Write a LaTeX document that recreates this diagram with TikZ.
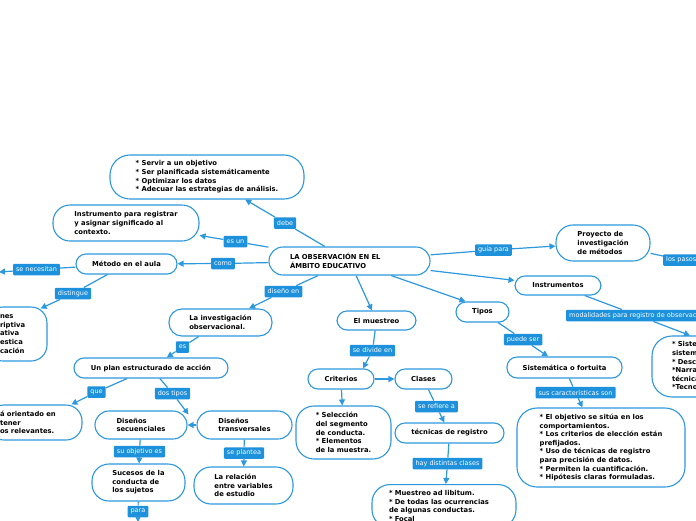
\documentclass[tikz,border=0pt]{standalone}
\usepackage{fontspec}
\setmainfont{DejaVu Sans}
\usetikzlibrary{arrows.meta,calc}
\definecolor{bord}{RGB}{45,152,222}
\definecolor{lblfill}{RGB}{30,145,220}
\begin{document}
\begin{tikzpicture}[x=1pt,y=-1pt,
  box/.style={draw=bord, line width=1.1pt, fill=white, rounded corners=10pt, align=left, inner sep=0pt, font=\bfseries\fontsize{6.8}{8.6}\selectfont, text=black},
  lbl/.style={fill=lblfill, text=white, font=\fontsize{6.5}{7}\selectfont, inner xsep=3pt, inner ysep=0pt, minimum height=11.5pt, rounded corners=1pt},
  edge/.style={draw=bord, line width=1.2pt, -{Triangle[length=6pt,width=6pt]}}]
\useasboundingbox (0,0) rectangle (696,520);
\clip (0,0) rectangle (696,520);

% boxes
\node[box, minimum width=194, minimum height=44, rounded corners=20pt] (servir) at (207,177) {{*} Servir a un objetivo\\{*} Ser planificada sistemáticamente\\{*} Optimizar los datos\\{*} Adecuar las estrategias de análisis.};
\node[box, minimum width=146, minimum height=36, rounded corners=17pt] (instr) at (126,223) {Instrumento para registrar\\y asignar significado al\\contexto.};
\node[box, minimum width=161, minimum height=28, rounded corners=14pt, text width=119] (main) at (349.5,261) {LA OBSERVACIÓN EN EL\\ÁMBITO EDUCATIVO};
\node[box, minimum width=101, minimum height=20] (metodo) at (126.5,264) {Método en el aula};
\node[box, minimum width=60, minimum height=54, rounded corners=16pt, text width=34] (funciones) at (17,334) {nes\\riptiva\\ativa\\estica\\cación};
\node[box, minimum width=103, minimum height=27, rounded corners=13pt] (investig) at (220.5,322.5) {La investigación\\observacional.};
\node[box, minimum width=154, minimum height=20] (plan) at (151,368) {Un plan estructurado de acción};
\node[box, minimum width=94, minimum height=35, rounded corners=16pt, text width=70] (orient) at (35,422.5) {á orientado en\\tener\\os relevantes.};
\node[box, minimum width=92, minimum height=28, rounded corners=14pt] (dsec) at (141,425) {Diseños\\secuenciales};
\node[box, minimum width=95, minimum height=28, rounded corners=14pt] (dtrans) at (244.5,425) {Diseños\\transversales};
\node[box, minimum width=93, minimum height=37, rounded corners=17pt] (sucesos) at (138.5,482.5) {Sucesos de la\\conducta de\\los sujetos};
\node[box, minimum width=99, minimum height=37, rounded corners=17pt] (relacion) at (243.5,485.5) {La relación\\entre variables\\de estudio};
\node[box, minimum width=79, minimum height=19] (muestreo) at (376.5,320.5) {El muestreo};
\node[box, minimum width=66, minimum height=20] (criterios) at (341,379) {Criterios};
\node[box, minimum width=57, minimum height=20] (clases) at (423.5,379) {Clases};
\node[box, minimum width=95, minimum height=53, rounded corners=18pt] (seleccion) at (343.5,432.5) {{*} Selección\\del segmento\\de conducta.\\{*} Elementos\\de la muestra.};
\node[box, minimum width=109, minimum height=20] (tecnicas) at (449.5,433) {técnicas de registro};
\node[box, minimum width=144, anchor=north, inner ysep=6pt, rounded corners=18pt, text width=110] (libitum) at (444,484) {{*} Muestreo ad libitum.\\{*} De todas las ocurrencias\\de algunas conductas.\\{*} Focal};
\node[box, minimum width=53, minimum height=20] (tipos) at (482.5,312) {Tipos};
\node[box, minimum width=115, minimum height=21] (sistem) at (564.5,367.5) {Sistemática o fortuita};
\node[box, minimum width=168, minimum height=79, rounded corners=20pt] (objetivo) at (601,447.5) {{*} El objetivo se sitúa en los\\comportamientos.\\{*} Los criterios de elección están\\prefijados.\\{*} Uso de técnicas de registro\\para precisión de datos.\\{*} Permiten la cuantificación.\\{*} Hipótesis claras formuladas.};
\node[box, minimum width=94, minimum height=36, rounded corners=17pt] (proyecto) at (603,243) {Proyecto de\\investigación\\de métodos};
\node[box, minimum width=86, minimum height=19] (instrumentos) at (558,285.5) {Instrumentos};
\node[box, minimum width=136, minimum height=61, rounded corners=20pt, text width=96] (sistemas) at (720,366.5) {{*} Sistemas de\\sistematización\\{*} Descriptivos\\{*}Narrativos y\\técnicas\\{*}Tecnológicos};

% labels
\node[lbl] (debe) at (285,223) {debe};
\node[lbl] (esun) at (235.5,241.5) {es un};
\node[lbl] (como) at (223,263.5) {como};
\node[lbl] (senec) at (36.5,269.5) {se necesitan};
\node[lbl] (disting) at (73,293.5) {distingue};
\node[lbl] (disenoen) at (283.5,291.5) {diseño en};
\node[lbl] (es) at (182.5,347) {es};
\node[lbl] (que) at (96.5,392) {que};
\node[lbl] (dostipos) at (172.5,393.5) {dos tipos};
\node[lbl] (suobj) at (139.5,451.5) {su objetivo es};
\node[lbl] (seplan) at (244,453) {se plantea};
\node[lbl] (para) at (138,511.5) {para};
\node[lbl] (sedivide) at (372.5,350.5) {se divide en};
\node[lbl] (serefiere) at (436.5,406.5) {se refiere a};
\node[lbl] (hay) at (447.5,463.5) {hay distintas clases};
\node[lbl] (guia) at (493.5,250) {guía para};
\node[lbl, anchor=west] (pasos) at (663,260) {los pasos};
\node[lbl, anchor=west] (modal) at (566,315.5) {modalidades para registro de observación};
\node[lbl] (puede) at (523,339.5) {puede ser};
\node[lbl] (suscar) at (575.5,392.5) {sus características son};

% free ends
\coordinate (necend) at (-1,272);
\coordinate (paraend) at (138,522);
\coordinate (pasosend) at (760,268);

% connectors
\draw[edge] (main) -- (debe) -- (servir);
\draw[edge] (main) -- (esun) -- (instr);
\draw[edge] (main) -- (como) -- (metodo);
\draw[edge] (metodo) -- (senec) -- (necend);
\draw[edge] (metodo) -- (disting) -- ([shift={(-7,2)}]funciones.north east);
\draw[edge] (main) -- (disenoen) -- (investig);
\draw[edge] (investig) -- (es) -- (plan);
\draw[edge] (plan) -- (que) -- (orient);
\draw[edge] (plan) -- (dostipos) -- ([shift={(1,4)}]dsec.north east);
\draw[edge] (dtrans) -- (dsec);
\draw[edge] (dsec) -- (suobj) -- (sucesos);
\draw[edge] (dtrans) -- (seplan) -- (relacion);
\draw[edge] (sucesos) -- (para) -- (paraend);
\draw[edge] (main) -- (muestreo);
\draw[edge] (muestreo) -- (sedivide) -- ([xshift=22pt]criterios.north);
\draw[edge] (criterios) -- (clases);
\draw[edge] (criterios) -- (seleccion);
\draw[edge] (clases) -- (serefiere) -- (tecnicas);
\draw[edge] (tecnicas) -- (hay) -- (libitum);
\draw[edge] (main) -- ([xshift=10pt]tipos.north west);
\draw[edge] (tipos) -- (puede) -- (sistem);
\draw[edge] (sistem) -- (suscar) -- (objetivo);
\draw[edge] (main) -- (guia) -- (proyecto);
\draw[edge] (main) -- (instrumentos);
\draw[edge] (proyecto) -- (pasos) -- (pasosend);
\draw[edge] (instrumentos) -- (modal) -- ([xshift=-30pt]sistemas.north);
\end{tikzpicture}
\end{document}
